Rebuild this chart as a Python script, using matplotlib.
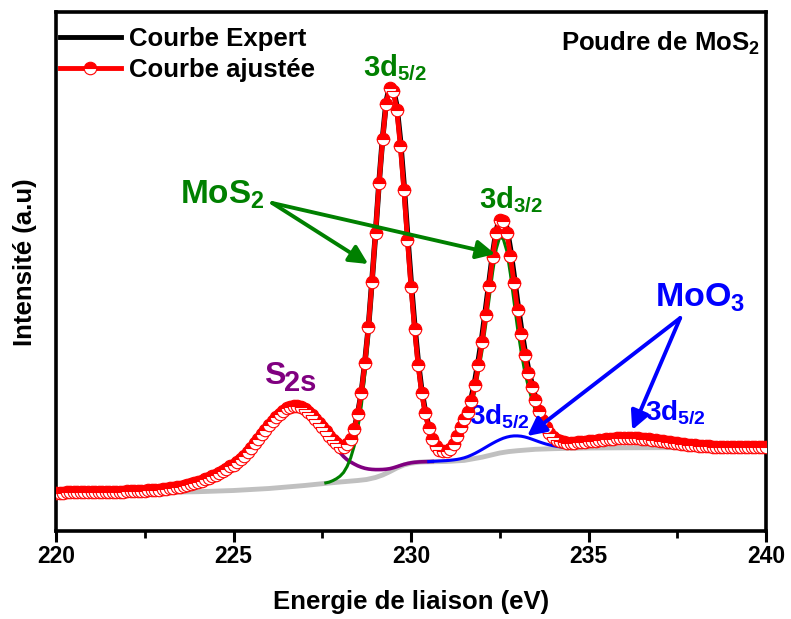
import numpy as np
import matplotlib
matplotlib.use('Agg')
import matplotlib.pyplot as plt
from matplotlib.lines import Line2D

plt.rcParams['font.family'] = ['Liberation Sans', 'DejaVu Sans']
plt.rcParams['font.weight'] = 'bold'
plt.rcParams['mathtext.fontset'] = 'custom'
plt.rcParams['mathtext.rm'] = 'Liberation Sans:bold'
plt.rcParams['mathtext.it'] = 'Liberation Sans:bold'
plt.rcParams['mathtext.bf'] = 'Liberation Sans:bold'

# ---------------- data (binding energy grid, 0.1 eV step) ----------------
energy = np.round(np.arange(2200, 2401) / 10.0, 1)

fit_curve = [
    38.5, 38.5, 38.5, 38.6, 38.6, 38.6, 38.7, 38.7, 38.8, 38.8,
    38.9, 38.9, 39.0, 39.0, 39.1, 39.2, 39.3, 39.3, 39.4, 39.5,
    39.6, 39.7, 39.9, 40.0, 40.2, 40.4, 40.6, 40.9, 41.2, 41.5,
    41.9, 42.3, 42.8, 43.3, 43.9, 44.5, 45.3, 46.1, 47.0, 48.0,
    49.1, 50.3, 51.6, 53.0, 54.6, 56.3, 58.2, 60.2, 62.4, 64.6,
    66.5, 69.0, 72.0, 75.5, 79.5, 83.5, 88.0, 92.5, 97.0, 101.5,
    106.0, 110.0, 113.8, 117.3, 120.2, 122.7, 124.5, 125.5, 125.4, 124.3,
    122.2, 119.3, 115.8, 112.0, 108.0, 104.0, 99.8, 95.5, 91.5, 87.8,
    84.5, 84.5, 87.5, 92.0, 102.0, 117.0, 138.0, 168.0, 204.0, 249.0,
    298.0, 348.0, 392.0, 427.0, 443.0, 440.0, 421.0, 385.0, 341.0, 291.0,
    244.0, 202.0, 166.0, 138.0, 118.0, 103.0, 92.0, 85.0, 81.0, 80.0,
    80.0, 82.0, 87.0, 95.0, 104.0, 112.0, 119.0, 130.0, 146.0, 166.0,
    189.0, 216.0, 245.0, 274.0, 298.0, 311.0, 310.0, 298.0, 275.0, 248.0,
    221.0, 197.0, 176.0, 158.0, 144.0, 131.0, 120.0, 111.0, 104.0, 98.0,
    94.0, 91.5, 90.0, 89.0, 88.5, 88.5, 88.5, 88.8, 89.0, 89.3,
    89.6, 90.0, 90.4, 90.8, 91.2, 91.6, 92.0, 92.3, 92.6, 92.8,
    93.0, 93.0, 93.0, 92.9, 92.7, 92.4, 92.0, 91.6, 91.1, 90.6,
    90.1, 89.6, 89.1, 88.6, 88.1, 87.6, 87.2, 86.8, 86.4, 86.0,
    85.7, 85.4, 85.1, 84.9, 84.7, 84.5, 84.4, 84.3, 84.2, 84.1,
    84.0, 84.0, 83.9, 83.9, 83.9, 83.8, 83.8, 83.8, 83.8, 83.8,
    83.8,
]

expert_curve = [
    38.3, 38.8, 38.4, 38.7, 38.5, 38.9, 38.5, 38.8, 38.6, 39.0,
    38.8, 39.1, 38.9, 39.2, 39.0, 39.4, 39.2, 39.5, 39.3, 39.7,
    39.5, 39.9, 39.8, 40.2, 40.1, 40.6, 40.5, 41.1, 41.1, 41.7,
    41.8, 42.5, 42.7, 43.5, 43.8, 44.7, 45.2, 46.3, 46.9, 48.2,
    49.0, 50.5, 51.5, 53.2, 54.5, 56.5, 58.1, 60.4, 62.3, 64.8,
    66.4, 69.2, 71.9, 75.7, 79.4, 83.7, 87.9, 92.7, 96.9, 101.7,
    105.9, 110.2, 113.7, 117.5, 120.1, 122.9, 124.4, 125.7, 125.3, 124.5,
    122.1, 119.2, 115.5, 112.2, 107.9, 104.2, 99.7, 95.7, 91.4, 88.0,
    84.3, 84.8, 87.2, 92.5, 101.5, 117.5, 137.5, 168.5, 203.5, 249.5,
    297.0, 348.5, 393.0, 429.0, 445.0, 442.0, 425.0, 391.0, 347.0, 297.0,
    250.0, 207.0, 170.0, 141.0, 120.0, 104.0, 92.5, 85.5, 81.0, 80.2,
    79.8, 82.3, 87.2, 95.5, 104.5, 113.0, 121.0, 133.0, 150.0, 171.0,
    194.0, 221.0, 249.0, 277.0, 300.0, 313.0, 313.0, 303.0, 282.0, 256.0,
    229.0, 204.0, 182.0, 163.0, 148.0, 134.0, 122.5, 112.5, 105.0, 99.0,
    94.5, 91.5, 90.2, 88.8, 88.7, 88.3, 88.7, 88.6, 89.2, 89.1,
    89.8, 89.9, 90.6, 90.7, 91.4, 91.5, 92.2, 92.2, 92.8, 92.7,
    93.2, 92.9, 93.1, 92.8, 92.8, 92.3, 92.1, 91.5, 91.2, 90.5,
    90.2, 89.5, 89.2, 88.5, 88.2, 87.5, 87.3, 86.7, 86.5, 85.9,
    85.8, 85.3, 85.2, 84.8, 84.8, 84.4, 84.5, 84.2, 84.3, 84.0,
    84.1, 83.9, 84.0, 83.8, 84.0, 83.7, 83.9, 83.7, 83.9, 83.7,
    83.8,
]

# MoS2 3d doublet component (+ background), 227.6 -> 234.6 eV
mos2_range = (227.6, 234.6)
mos2_curve = [
    48.1, 48.9, 50.4, 52.3, 54.8, 58.5, 64.5, 73.0, 85.0,
    102.5, 125.0, 157.0, 194.0, 240.5, 290.0, 341.0, 386.5, 423.0, 440.0,
    438.0, 419.5, 384.0, 340.0, 290.5, 243.5, 201.5, 165.5, 137.5, 117.5,
    102.5, 91.5, 84.5, 80.0, 78.5, 78.0, 79.5, 84.0, 92.0, 101.0,
    108.5, 115.0, 125.0, 140.0, 159.0, 180.0, 205.0, 232.0, 259.0, 282.0,
    294.0, 292.0, 280.0, 257.0, 230.0, 203.0, 180.0, 160.0, 145.0, 132.0,
    121.0, 111.0, 103.0, 96.5, 92.0, 88.5, 86.3, 84.8, 83.9, 83.3,
    83.0, 82.8,
]

# S 2s component (+ background), 227.5 -> 230.6 eV
s2s_range = (227.5, 230.6)
s2s_curve = [
    103.8, 99.5, 95.0, 90.0, 84.2, 78.5, 74.5, 71.3, 69.0, 67.0,
    65.2, 63.8, 62.7, 62.0, 61.6, 61.4, 61.4, 61.5, 61.8, 62.3,
    63.2, 64.3, 65.5, 66.6, 67.5, 68.2, 68.7, 69.0, 69.2, 69.3,
    69.4, 69.5,
]

# MoO3 component (+ background), 230.5 -> 234.6 eV
moo3_range = (230.5, 234.6)
moo3_curve = [
    69.4, 69.6, 69.8, 70.0, 70.2, 70.4, 70.7, 71.1, 71.6, 72.3,
    73.2, 74.4, 75.9, 77.6, 79.5, 81.5, 83.6, 85.7, 87.7, 89.6,
    91.3, 92.8, 93.9, 94.7, 95.1, 95.1, 94.8, 94.1, 93.1, 91.9,
    90.6, 89.3, 88.1, 87.0, 86.1, 85.3, 84.7, 84.2, 83.8, 83.5,
    83.2, 83.0,
]

# background
bg_energy = [220, 221, 222, 223, 224, 225, 226, 227, 227.5, 228, 228.5, 228.75,
             229, 229.2, 229.4, 229.6, 229.8, 230, 230.25, 230.5, 231, 231.5,
             232, 232.25, 232.5, 232.75, 233, 233.5, 234, 234.5, 235, 236, 237,
             238, 239, 240]
bg_curve = [36.5, 37.2, 37.9, 38.6, 39.3, 40.5, 42.5, 45.5, 47.3, 49.0, 50.5, 51.5,
            53.5, 56.0, 59.3, 63.0, 66.0, 67.8, 68.9, 69.2, 69.5, 70.6,
            73.8, 75.9, 78.0, 79.4, 80.3, 81.7, 82.3, 82.7, 83.0, 83.2, 83.3,
            83.4, 83.5, 83.5]

x_ticks = [220, 225, 230, 235, 240]
legend_labels = ['Courbe Expert', 'Courbe ajustée']


def sub_grid(rng):
    return energy[(energy >= rng[0] - 1e-9) & (energy <= rng[1] + 1e-9)]


# ---------------- figure ----------------
W, H = 791, 619
fig = plt.figure(figsize=(W / 100, H / 100), dpi=100)
ax = fig.add_axes([56 / W, 88 / H, 710 / W, 519 / H])

ax.plot(bg_energy, bg_curve, color='#c0c0c0', lw=3.5, zorder=2)
ax.plot(energy, expert_curve, color='black', lw=4.0, zorder=3)
ax.plot(sub_grid(s2s_range), s2s_curve, color='#800080', lw=2.6, zorder=4)
ax.plot(sub_grid(moo3_range), moo3_curve, color='#0000ff', lw=2.2, zorder=4)
ax.plot(sub_grid(mos2_range), mos2_curve, color='#008000', lw=2.2, zorder=4)
ax.plot(energy, fit_curve, color='red', lw=3.5, marker='o', ms=9,
        mfc='red', mfcalt='white', mec='red', mew=0.8, fillstyle='top', zorder=5)

ax.set_xlim(220, 240)
ax.set_ylim(0, 519)
ax.set_xticks(x_ticks)
ax.set_xticks([222.5, 227.5, 232.5, 237.5], minor=True)
ax.set_yticks([])
ax.tick_params(axis='x', which='major', direction='out', length=8, width=2.2,
               labelsize=16.5, pad=2)
ax.tick_params(axis='x', which='minor', direction='out', length=5, width=2.0)
for lab in ax.get_xticklabels():
    lab.set_fontweight('bold')
for sp in ax.spines.values():
    sp.set_linewidth(2.6)

ax.set_xlabel('Energie de liaison (eV)', fontsize=18.5, fontweight='bold', labelpad=16)
ax.set_ylabel('Intensité (a.u)', fontsize=18.5, fontweight='bold', labelpad=14)
ax.yaxis.label.set_y(0.518)


def px(xp, yp):
    return (220 + (xp - 55.8) / 35.5, 531 - yp)


# annotations
green = '#008000'
blue = '#0000ff'
purple = '#800080'

ax.text(*px(180, 204), 'MoS$_2$', color=green, fontsize=24, fontweight='bold', va='baseline')
ax.text(*px(363, 76), '3d$_{5/2}$', color=green, fontsize=21, fontweight='bold', va='baseline')
ax.text(*px(479, 208), '3d$_{3/2}$', color=green, fontsize=21, fontweight='bold', va='baseline')
ax.text(*px(264, 384), 'S', color=purple, fontsize=23, fontweight='bold', va='baseline')
ax.text(*px(284, 391), '2s', color=purple, fontsize=21, fontweight='bold', va='baseline')
ax.text(*px(655, 307), 'MoO$_3$', color=blue, fontsize=24.5, fontweight='bold', va='baseline')
ax.text(*px(469, 424), '3d$_{5/2}$', color=blue, fontsize=20, fontweight='bold', va='baseline')
ax.text(*px(645, 420), '3d$_{5/2}$', color=blue, fontsize=20, fontweight='bold', va='baseline')

arrow_g = dict(arrowstyle='-|>', color=green, lw=2.8, mutation_scale=28, shrinkA=0, shrinkB=0)
ax.annotate('', xy=px(368, 264), xytext=px(272, 203), arrowprops=arrow_g, zorder=6)
ax.annotate('', xy=px(495, 254), xytext=px(272, 203), arrowprops=arrow_g, zorder=6)
arrow_b = dict(arrowstyle='-|>', color=blue, lw=2.8, mutation_scale=28, shrinkA=0, shrinkB=0)
ax.annotate('', xy=px(527, 436), xytext=px(680, 318), arrowprops=arrow_b, zorder=6)
ax.annotate('', xy=px(632, 430), xytext=px(680, 318), arrowprops=arrow_b, zorder=6)

ax.text(0.992, 0.926, 'Poudre de MoS$_2$', transform=ax.transAxes, ha='right',
        va='baseline', fontsize=18.5, fontweight='bold')

handles = [
    Line2D([], [], color='black', lw=3.5),
    Line2D([], [], color='red', lw=3.5, marker='o', ms=9, mfc='red', mfcalt='white',
           mec='red', mew=0.8, fillstyle='top'),
]
ax.legend(handles, legend_labels, loc='upper left', bbox_to_anchor=(0.005, 0.972),
          frameon=False, prop={'weight': 'bold', 'size': 18.5}, handlelength=2.4,
          handletextpad=0.3, labelspacing=0.28, borderaxespad=0, borderpad=0,
          numpoints=1)

fig.savefig('out.png', dpi=100)
